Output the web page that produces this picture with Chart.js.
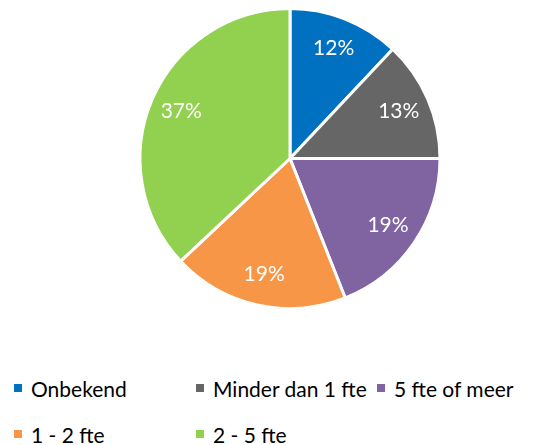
<!DOCTYPE html>
<html>
<head>
<meta charset="utf-8">
<script src="https://cdn.jsdelivr.net/npm/chart.js@4"></script>
<style>
  body { margin: 0; background: #fff; font-family: Lato, "Liberation Sans", sans-serif; }
  #wrap { position: absolute; left: 0; top: 0; width: 547px; height: 318px; }
  #legenda {
    position: absolute; left: 14px; top: 374px;
    display: grid; grid-template-columns: 182px 181px auto; grid-auto-rows: 46px;
    font-size: 21px; color: #000;
  }
  #legenda div { display: flex; align-items: center; height: 28px; white-space: nowrap; }
  #legenda span.box { display: inline-block; width: 8px; height: 8px; margin-right: 9px; }
</style>
</head>
<body>
<div id="wrap"><canvas id="grafico"></canvas></div>
<div id="legenda"></div>
<script>
const categorias = ['Onbekend', 'Minder dan 1 fte', '5 fte of meer', '1 - 2 fte', '2 - 5 fte'];
const aandelen = [12, 13, 19, 19, 37];
const kleuren = ['#0070C0', '#666666', '#8064A2', '#F79646', '#92D050'];

const ctx = document.getElementById('grafico').getContext('2d');

// percentages in de taartpunten
const labelsInPunt = {
  id: 'labelsInPunt',
  afterDatasetsDraw(chart) {
    const meta = chart.getDatasetMeta(0);
    const totaal = aandelen.reduce((a, b) => a + b, 0);
    const c = chart.ctx;
    c.save();
    c.fillStyle = '#fff';
    c.font = '21px Lato, "Liberation Sans", sans-serif';
    c.textAlign = 'center';
    c.textBaseline = 'middle';
    meta.data.forEach((arc, i) => {
      const hoek = (arc.startAngle + arc.endAngle) / 2;
      const r = arc.outerRadius * 0.79;
      const x = arc.x + Math.cos(hoek) * r;
      const y = arc.y + Math.sin(hoek) * r;
      c.fillText(Math.round(aandelen[i] / totaal * 100) + '%', x, y);
    });
    c.restore();
  }
};

const grafiek = new Chart(ctx, {
  type: 'pie',
  data: {
    labels: categorias,
    datasets: [{
      data: aandelen,
      backgroundColor: kleuren,
      borderColor: '#fff',
      borderWidth: 3
    }]
  },
  options: {
    responsive: true,
    maintainAspectRatio: false,
    animation: false,
    layout: { padding: { left: 33, right: 0, top: 7, bottom: 8 } },
    plugins: {
      legend: { display: false },
      tooltip: { enabled: false }
    }
  },
  plugins: [labelsInPunt]
});

const legendaEl = document.getElementById('legenda');
categorias.forEach((naam, i) => {
  const div = document.createElement('div');
  div.innerHTML = `<span class="box" style="background:${kleuren[i]}"></span>${naam}`;
  legendaEl.appendChild(div);
});
</script>
</body>
</html>
